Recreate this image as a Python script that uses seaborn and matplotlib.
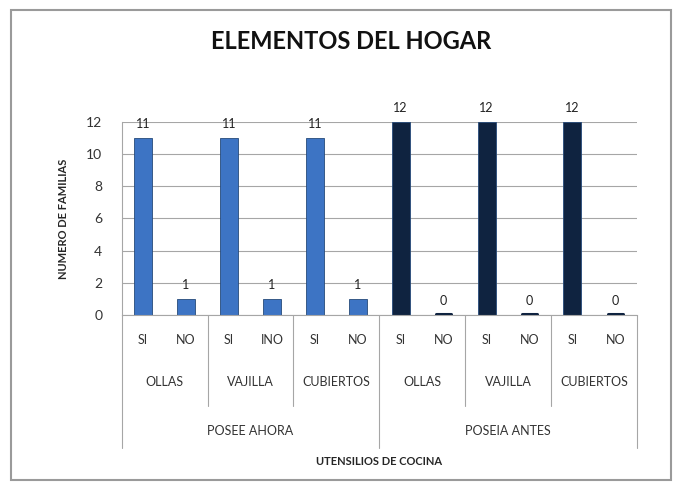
import numpy as np
import pandas as pd
import seaborn as sns
import matplotlib.pyplot as plt
from matplotlib.patches import Rectangle
import matplotlib.transforms as mtransforms

# Datos
periodos = ['POSEE AHORA'] * 6 + ['POSEIA ANTES'] * 6
utensilios = ['OLLAS', 'OLLAS', 'VAJILLA', 'VAJILLA', 'CUBIERTOS', 'CUBIERTOS'] * 2
respuestas = ['SI', 'NO', 'SI', 'INO', 'SI', 'NO', 'SI', 'NO', 'SI', 'NO', 'SI', 'NO']
familias = [11, 1, 11, 1, 11, 1, 12, 0, 12, 0, 12, 0]

df = pd.DataFrame({'periodo': periodos, 'utensilio': utensilios,
                   'respuesta': respuestas, 'familias': familias})
df['barra'] = [str(i) for i in range(len(df))]

sns.set_style('white')
plt.rcParams['font.family'] = ['Lato', 'DejaVu Sans']

fig = plt.figure(figsize=(6.76, 4.86), dpi=100)
ax = fig.add_axes([0.180, 0.352, 0.762, 0.397])

sns.barplot(data=df, x='barra', y='familias', hue='periodo', dodge=False,
            palette={'POSEE AHORA': '#3d74c4', 'POSEIA ANTES': '#0f2340'},
            saturation=1, width=0.42, edgecolor='#264a7a', linewidth=0.6,
            legend=False, ax=ax)

# las barras en cero se ven como una raya plana
for i, v in enumerate(familias):
    if v == 0:
        ax.plot([i - 0.18, i + 0.18], [0.05, 0.05], color='#0f2340', lw=2.2,
                solid_capstyle='round', zorder=3)

for cont in ax.containers:
    ax.bar_label(cont, labels=[f'{int(v)}' if not np.isnan(v) else '' for v in cont.datavalues],
                 padding=6, fontsize=9, color='#222222')

ax.set_ylim(0, 12)
ax.set_xlim(-0.5, 11.5)
ax.set_yticks(range(0, 13, 2))
ax.tick_params(axis='y', labelsize=10, colors='#333333', length=0, pad=14)
ax.set_xticks([])
ax.set_xlabel('')
ax.set_ylabel('NUMERO DE FAMILIAS', fontsize=8, fontweight='bold', labelpad=12)
ax.yaxis.grid(True, color='#a6a6a6', linewidth=0.8)
ax.set_axisbelow(True)
for s in ['top', 'right']:
    ax.spines[s].set_visible(False)
ax.spines['left'].set_color('#a6a6a6')
ax.spines['bottom'].set_color('#a6a6a6')

# etiquetas de categorias en varios niveles
trans = mtransforms.blended_transform_factory(ax.transData, ax.transAxes)
for i, r in enumerate(respuestas):
    ax.text(i, -0.13, r, transform=trans, ha='center', va='center', fontsize=9, color='#333333')
for k in range(6):
    ax.text(2 * k + 0.5, -0.35, utensilios[2 * k], transform=trans,
            ha='center', va='center', fontsize=9, color='#333333')
for k, p in enumerate(['POSEE AHORA', 'POSEIA ANTES']):
    ax.text(6 * k + 2.5, -0.60, p, transform=trans, ha='center', va='center',
            fontsize=9, color='#333333')

for xb in [1.5, 3.5, 7.5, 9.5]:
    ax.plot([xb, xb], [0, -0.47], transform=trans, color='#a6a6a6', lw=0.8, clip_on=False)
for xb in [-0.5, 5.5, 11.5]:
    ax.plot([xb, xb], [0, -0.69], transform=trans, color='#a6a6a6', lw=0.8, clip_on=False)

ax.text(5.5, -0.76, 'UTENSILIOS DE COCINA', transform=trans, ha='center', va='center',
        fontsize=8, fontweight='bold')

fig.text(0.52, 0.915, 'ELEMENTOS DEL HOGAR', ha='center', va='center',
         fontsize=17, fontweight='bold', color='#111111')

fig.patches.append(Rectangle((0.017, 0.012), 0.975, 0.968, transform=fig.transFigure,
                             fill=False, edgecolor='#9a9a9a', linewidth=1.5))

fig.savefig('out.png', dpi=100)
